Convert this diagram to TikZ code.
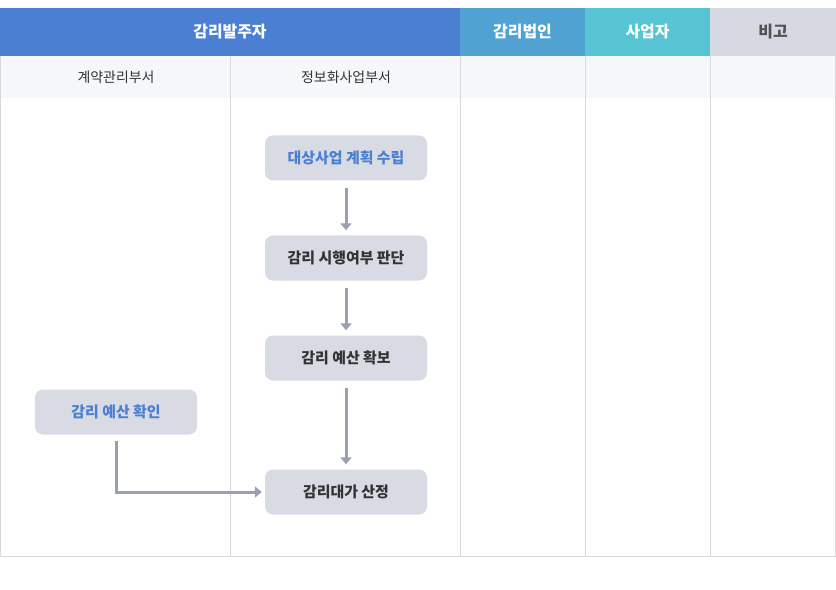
\documentclass[tikz,border=0pt]{standalone}
\usepackage{fontspec}
\setmainfont{Noto Sans CJK KR}
\usetikzlibrary{arrows.meta, positioning}

\definecolor{ownerblue}{HTML}{4A7FD1}
\definecolor{firmblue}{HTML}{4FA2D2}
\definecolor{bizcyan}{HTML}{56C4D3}
\definecolor{notegray}{HTML}{D7D9E2}
\definecolor{subrow}{HTML}{F6F7FB}
\definecolor{gridline}{HTML}{D9D9D9}
\definecolor{boxfill}{HTML}{D8DBE4}
\definecolor{arrowgray}{HTML}{9A9FB2}
\definecolor{darktext}{HTML}{333333}

\tikzset{
    headcell/.style={font=\fontsize{16}{19}\selectfont\bfseries, text=white},
    subcell/.style={font=\fontsize{14}{17}\selectfont, text=darktext},
    taskbox/.style={draw=none, fill=boxfill, rounded corners=8bp, minimum width=162bp, minimum height=45bp, font=\fontsize{15}{18}\selectfont\bfseries, text=darktext},
    bluetask/.style={taskbox, text=ownerblue},
    flow/.style={draw=arrowgray, line width=3bp, -{Triangle[length=7bp, width=11bp]}}
}

\begin{document}
\begin{tikzpicture}[x=1bp, y=-1bp]
        \useasboundingbox (0,0) rectangle (836,590);
        % header band
        \fill[ownerblue] (0,8) rectangle (460,56);
        \fill[firmblue] (460,8) rectangle (585,56);
        \fill[bizcyan] (585,8) rectangle (710,56);
        \fill[notegray] (710,8) rectangle (836,56);
        \fill[subrow] (0,56) rectangle (836,98);
        % grid lines
        \foreach \x in {.5,230,460,585,710,835.5} {
            \draw[gridline, line width=1bp] (\x,56) -- (\x,556);
        }
        \draw[gridline, line width=1bp] (0,556) -- (836,556);

        \node[headcell] (owner) at (230,32) {감리발주자};
        \node[headcell] (firm) at (522.5,32) {감리법인};
        \node[headcell] (biz) at (647.5,32) {사업자};
        \node[headcell, text=darktext!85] (note) at (773,32) {비고};
        \node[subcell] (contract) at (116,77) {계약관리부서};
        \node[subcell] (infodept) at (346,77) {정보화사업부서};

        % tasks
        \node[bluetask] (plan) at (346,158) {대상사업 계획 수립};
        \node[taskbox] (decide) at (346,258) {감리 시행여부 판단};
        \node[taskbox] (secure) at (346,358) {감리 예산 확보};
        \node[taskbox] (fee) at (346,492) {감리대가 산정};
        \node[bluetask] (check) at (116,412) {감리 예산 확인};

        \draw[flow, shorten <=7bp, shorten >=5bp] (plan) -- (decide);
        \draw[flow, shorten <=7bp, shorten >=5bp] (decide) -- (secure);
        \draw[flow, shorten <=7bp, shorten >=5bp] (secure) -- (fee);
        \draw[flow, shorten <=6bp, shorten >=3bp] (check.south) |- (fee.west);
    \end{tikzpicture}
\end{document}
